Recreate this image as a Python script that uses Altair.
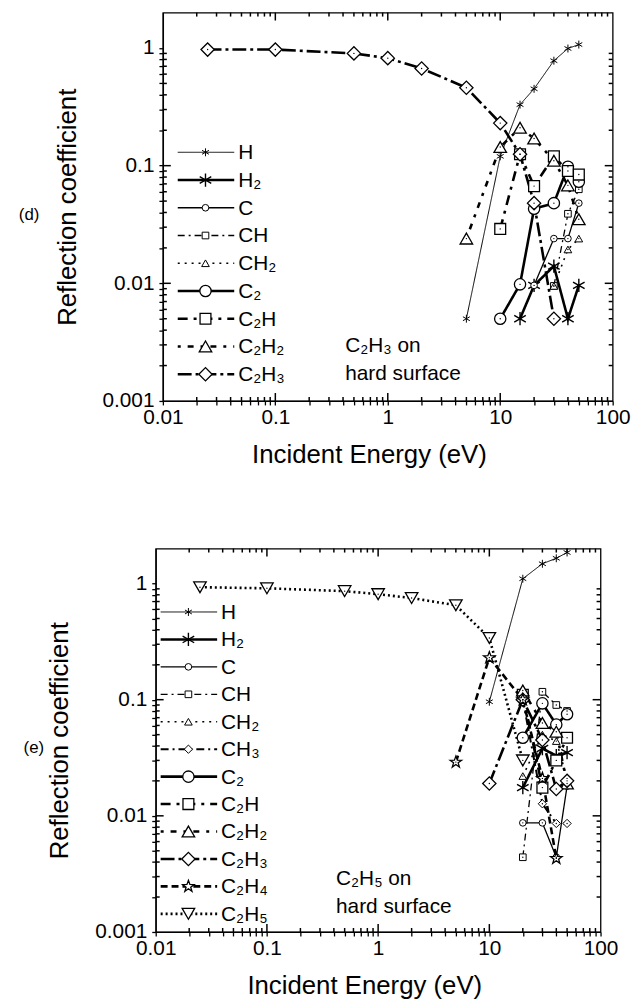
import math

import altair as alt
import pandas as pd

FONT = "Liberation Sans"

# ---------------- panel (d): C2H3 on hard surface ----------------
d_H_E = [5, 10, 15, 20, 30, 40, 50]
d_H_R = [0.005, 0.12, 0.33, 0.45, 0.78, 0.99, 1.07]
d_H2_E = [15, 20, 30, 40, 50]
d_H2_R = [0.005, 0.0096, 0.014, 0.005, 0.0096]
d_C_E = [20, 30, 40, 50]
d_C_R = [0.0096, 0.024, 0.024, 0.048]
d_CH_E = [30, 40, 50]
d_CH_R = [0.0095, 0.039, 0.063]
d_CH2_E = [30, 40, 50]
d_CH2_R = [0.0095, 0.0194, 0.024]
d_C2_E = [10, 15, 20, 30, 40, 50]
d_C2_R = [0.005, 0.0098, 0.043, 0.048, 0.098, 0.073]
d_C2H_E = [10, 15, 20, 30, 40, 50]
d_C2H_R = [0.029, 0.125, 0.067, 0.12, 0.09, 0.084]
d_C2H2_E = [5, 10, 15, 20, 30, 40, 50]
d_C2H2_R = [0.024, 0.144, 0.21, 0.17, 0.11, 0.068, 0.035]
d_C2H3_E = [0.025, 0.1, 0.5, 1, 2, 5, 10, 15, 20, 30]
d_C2H3_R = [0.97, 0.97, 0.9, 0.82, 0.67, 0.46, 0.23, 0.125, 0.048, 0.005]

# ---------------- panel (e): C2H5 on hard surface ----------------
e_H_E = [10, 20, 30, 40, 50]
e_H_R = [0.096, 1.1, 1.48, 1.65, 1.85]
e_H2_E = [20, 30, 40, 50]
e_H2_R = [0.0175, 0.038, 0.033, 0.035]
e_C_E = [20, 30, 40, 50]
e_C_R = [0.0087, 0.0087, 0.0044, 0.018]
e_CH_E = [20, 30, 40, 50]
e_CH_R = [0.0044, 0.117, 0.09, 0.08]
e_CH2_E = [20, 30, 40, 50]
e_CH2_R = [0.022, 0.05, 0.044, 0.021]
e_CH3_E = [20, 30, 40, 50]
e_CH3_R = [0.1, 0.0127, 0.0086, 0.0086]
e_C2_E = [20, 30, 40, 50]
e_C2_R = [0.047, 0.093, 0.061, 0.075]
e_C2H_E = [20, 30, 40, 50]
e_C2H_R = [0.11, 0.0175, 0.03, 0.047]
e_C2H2_E = [20, 30, 40, 50]
e_C2H2_R = [0.12, 0.063, 0.053, 0.019]
e_C2H3_E = [10, 20, 30, 40, 50]
e_C2H3_R = [0.019, 0.1, 0.045, 0.017, 0.02]
e_C2H4_E = [5, 10, 20, 30, 40]
e_C2H4_R = [0.029, 0.23, 0.1, 0.021, 0.0043]
e_C2H5_E = [0.025, 0.1, 0.5, 1, 2, 5, 10, 20]
e_C2H5_R = [0.93, 0.91, 0.86, 0.81, 0.75, 0.65, 0.34, 0.03]

LABELS = {
    "H": "H", "H2": "H₂", "C": "C", "CH": "CH", "CH2": "CH₂", "CH3": "CH₃",
    "C2": "C₂", "C2H": "C₂H", "C2H2": "C₂H₂", "C2H3": "C₂H₃",
    "C2H4": "C₂H₄", "C2H5": "C₂H₅",
}

X_DOMAIN = [0.01, 100]
Y_DOMAIN = [0.001, 2]
X_MAJOR = [0.01, 0.1, 1, 10, 100]
Y_MAJOR = [0.001, 0.01, 0.1, 1]
X_MINOR = [k * 10.0 ** p for p in range(-2, 2) for k in range(2, 10)]
Y_MINOR = [k * 10.0 ** p for p in range(-3, 0) for k in range(2, 10)]
X_TEXT = ["0.01", "0.1", "1", "10", "100"]
Y_TEXT = ["0.001", "0.01", "0.1", "1"]

# symbol paths
ASTER = "M0,-1L0,1M-0.87,-0.5L0.87,0.5M-0.87,0.5L0.87,-0.5"
STAR = ("M0,-1L0.24,-0.33L0.95,-0.31L0.38,0.12L0.59,0.81L0,0.4"
        "L-0.59,0.81L-0.38,0.12L-0.95,-0.31L-0.24,-0.33Z")

STYLE = {
    "H":    dict(shape=ASTER, size=64, width=1.0, dash=[1, 0], sw=1.0),
    "H2":   dict(shape=ASTER, size=180, width=2.6, dash=[1, 0], sw=1.4),
    "C":    dict(shape="circle", size=45, width=1.3, dash=[1, 0], sw=1.0),
    "CH":   dict(shape="square", size=45, width=1.3, dash=[7, 4, 2, 4], sw=1.0),
    "CH2":  dict(shape="triangle-up", size=60, width=1.6, dash=[2, 5], sw=1.0),
    "CH3":  dict(shape="diamond", size=70, width=2.0, dash=[8, 4, 2, 4], sw=1.0),
    "C2":   dict(shape="circle", size=130, width=2.6, dash=[1, 0], sw=1.3),
    "C2H":  dict(shape="square", size=120, width=2.6, dash=[10, 6, 3, 6], sw=1.3),
    "C2H2": dict(shape="triangle-up", size=160, width=2.6, dash=[3, 7, 6, 7], sw=1.3),
    "C2H3": dict(shape="diamond", size=180, width=2.6, dash=[14, 4, 3, 4], sw=1.3),
    "C2H4": dict(shape=STAR, size=150, width=2.6, dash=[7, 4], sw=1.3),
    "C2H5": dict(shape="triangle-down", size=160, width=2.6, dash=[2, 3], sw=1.3),
}

xs = alt.Scale(type="log", domain=X_DOMAIN, nice=False)
ys = alt.Scale(type="log", domain=Y_DOMAIN, nice=False)


def only(labels):
    quoted = ",".join(f"'{t}'" for t in labels)
    return f"indexof([{quoted}], datum.label) >= 0 ? datum.label : ''"


def make_axes(W, title_dx):
    xa = alt.Axis(values=X_MAJOR + X_MINOR, format="~g", labelExpr=only(X_TEXT),
                  labelOverlap=False, title="Incident Energy (eV)",
                  ticks=True, tickSize=4, tickColor="black", tickWidth=1.3,
                  grid=False, labelFontSize=21, labelPadding=2,
                  titleFontSize=26, titlePadding=14, titleFontWeight="normal",
                  titleX=W / 2 + title_dx,
                  labelFont=FONT, titleFont=FONT, labelColor="black",
                  titleColor="black", domainColor="black", domainWidth=1.3,
                  labelFlush=False)
    ya = alt.Axis(values=Y_MAJOR + Y_MINOR, format="~g", labelExpr=only(Y_TEXT),
                  labelOverlap=False, title="Reflection coefficient",
                  ticks=True, tickSize=4, tickColor="black", tickWidth=1.3,
                  grid=False, labelFontSize=21, labelPadding=5,
                  titleFontSize=26, titlePadding=22, titleFontWeight="normal",
                  labelFont=FONT, titleFont=FONT, labelColor="black",
                  titleColor="black", domainColor="black", domainWidth=1.3)
    return xa, ya


def tick_frames(W, H):
    """Inner frame ticks: a pixel length turned into a factor on each log axis."""
    xdec = W / (math.log10(X_DOMAIN[1]) - math.log10(X_DOMAIN[0]))
    ydec = H / (math.log10(Y_DOMAIN[1]) - math.log10(Y_DOMAIN[0]))

    def fx(px):
        return 10 ** (px / xdec)

    def fy(px):
        return 10 ** (px / ydec)

    rows = []
    for vals, ln in ((X_MAJOR[1:-1], 8), (X_MINOR, 4)):
        for v in vals:
            lo, hi = Y_DOMAIN
            rows.append(dict(E=v, E2=v, R=lo, R2=lo * fy(ln)))
            rows.append(dict(E=v, E2=v, R=hi, R2=hi / fy(ln)))
    for vals, ln in ((Y_MAJOR[1:-1], 8), (Y_MINOR, 4)):
        for v in vals:
            lo, hi = X_DOMAIN
            rows.append(dict(E=lo, E2=lo * fx(ln), R=v, R2=v))
            rows.append(dict(E=hi, E2=hi / fx(ln), R=v, R2=v))
    return pd.DataFrame(rows)


def panel(data, order, W, H, title_dx, tag, tag_x, note, note_x, note_y,
          leg_x, leg_y0, leg_dy, pad_right):
    xa, ya = make_axes(W, title_dx)

    def X():
        return alt.X("E:Q", scale=xs, axis=xa)

    def Y():
        return alt.Y("R:Q", scale=ys, axis=ya)

    ticks = alt.Chart(tick_frames(W, H)).mark_rule(
        color="black", strokeWidth=1.5).encode(
        x=X(), x2="E2:Q", y=Y(), y2="R2:Q")

    lines, points, dots, legend = [], [], [], []
    for name in order:
        st = STYLE[name]
        E, R = data[name]
        df = pd.DataFrame({"E": E, "R": R})
        lines.append(
            alt.Chart(df).mark_line(color="black", strokeWidth=st["width"],
                                    strokeDash=st["dash"], clip=True)
            .encode(x=X(), y=Y())
        )
        points.append(
            alt.Chart(df).mark_point(shape=st["shape"], size=st["size"],
                                     fill="white", stroke="black",
                                     strokeWidth=st["sw"], opacity=1)
            .encode(x=X(), y=Y())
        )
        if st["shape"] != ASTER:
            dots.append(
                alt.Chart(df).mark_point(shape="circle", size=2, filled=True,
                                         color="black", opacity=1)
                .encode(x=X(), y=Y())
            )
    for i, name in enumerate(order):
        st = STYLE[name]
        yy = leg_y0 + i * leg_dy
        row = pd.DataFrame({"label": [LABELS[name]]})
        legend.append(
            alt.Chart(row).mark_rule(color="black", strokeWidth=st["width"],
                                     strokeDash=st["dash"])
            .encode(x=alt.value(leg_x), x2=alt.value(leg_x + 57), y=alt.value(yy))
        )
        legend.append(
            alt.Chart(row).mark_point(shape=st["shape"], size=st["size"],
                                      fill="white", stroke="black",
                                      strokeWidth=st["sw"], opacity=1)
            .encode(x=alt.value(leg_x + 28), y=alt.value(yy))
        )
        legend.append(
            alt.Chart(row).mark_text(align="left", baseline="middle",
                                     font=FONT, fontSize=21, color="black")
            .encode(x=alt.value(leg_x + 61), y=alt.value(yy + 1), text="label:N")
        )
    extras = [
        alt.Chart(pd.DataFrame({"t": [tag]})).mark_text(
            font=FONT, fontSize=17, color="black")
        .encode(x=alt.value(tag_x), y=alt.value(H / 2 + 8), text="t:N"),
        alt.Chart(pd.DataFrame({"t": [note]})).mark_text(
            align="left", baseline="middle", font=FONT, fontSize=21, color="black")
        .encode(x=alt.value(note_x), y=alt.value(note_y), text="t:N"),
        alt.Chart(pd.DataFrame({"t": ["hard surface"]})).mark_text(
            align="left", baseline="middle", font=FONT, fontSize=21, color="black")
        .encode(x=alt.value(note_x), y=alt.value(note_y + 28), text="t:N"),
        # blank strip to the right; widens the cell so centring offsets the panels
        alt.Chart(pd.DataFrame({"t": [0]})).mark_rule(strokeOpacity=0, opacity=0)
        .encode(x=alt.value(W), x2=alt.value(W + pad_right), y=alt.value(0)),
    ]
    return alt.layer(*([ticks] + lines + points + dots + legend + extras)).properties(
        width=W, height=H)


d_data = {
    "H": (d_H_E, d_H_R), "H2": (d_H2_E, d_H2_R), "C": (d_C_E, d_C_R),
    "CH": (d_CH_E, d_CH_R), "CH2": (d_CH2_E, d_CH2_R), "C2": (d_C2_E, d_C2_R),
    "C2H": (d_C2H_E, d_C2H_R), "C2H2": (d_C2H2_E, d_C2H2_R),
    "C2H3": (d_C2H3_E, d_C2H3_R),
}
e_data = {
    "H": (e_H_E, e_H_R), "H2": (e_H2_E, e_H2_R), "C": (e_C_E, e_C_R),
    "CH": (e_CH_E, e_CH_R), "CH2": (e_CH2_E, e_CH2_R), "CH3": (e_CH3_E, e_CH3_R),
    "C2": (e_C2_E, e_C2_R), "C2H": (e_C2H_E, e_C2H_R),
    "C2H2": (e_C2H2_E, e_C2H2_R), "C2H3": (e_C2H3_E, e_C2H3_R),
    "C2H4": (e_C2H4_E, e_C2H4_R), "C2H5": (e_C2H5_E, e_C2H5_R),
}

top = panel(d_data, ["H", "H2", "C", "CH", "CH2", "C2", "C2H", "C2H2", "C2H3"],
            454, 392, -19, "(d)", -135, "C₂H₃ on", 184, 337, 15, 141, 28, 1)
bottom = panel(e_data, ["H", "H2", "C", "CH", "CH2", "CH3", "C2", "C2H", "C2H2",
                        "C2H3", "C2H4", "C2H5"],
               449, 387, -14, "(e)", -123, "C₂H₅ on", 182, 334, 5, 64, 27.7, 37)

chart = alt.vconcat(top, bottom, center=True, spacing=78).properties(
    padding={"left": 18, "top": 6, "right": 2, "bottom": 2},
    background="white",
).configure_view(stroke="black", strokeWidth=1.3)

chart.save("out.html", embed_options={"renderer": "svg", "actions": False})
